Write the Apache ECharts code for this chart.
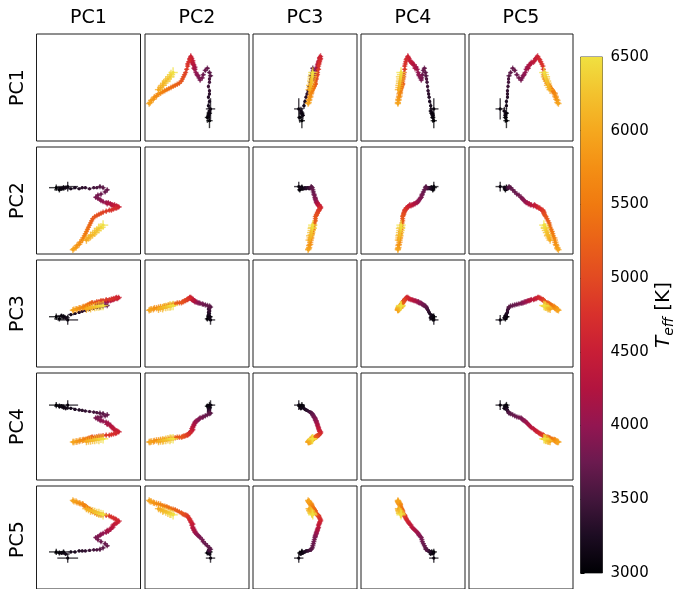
<!DOCTYPE html>
<html>
<head>
<meta charset="utf-8">
<script src="https://cdn.jsdelivr.net/npm/echarts@6/dist/echarts.min.js"></script>
<style>
  html, body { margin: 0; padding: 0; background: #fff; }
  #chart { width: 678px; height: 589px; }
</style>
</head>
<body>
<div id="chart"></div>
<script>
// Principal-component scores of the stellar sequence, ordered by effective temperature.
const pcNames = ['PC1', 'PC2', 'PC3', 'PC4', 'PC5'];

const teff = [3000, 3020, 3050, 3080, 3100, 3150, 3200,
  3250, 3300, 3350, 3400, 3450, 3500, 3550,
  3600, 3650, 3700, 3725, 3750, 3800, 3825, 3850, 3900, 3950,
  4000, 4050, 4100, 4150, 4200, 4250, 4300, 4350,
  4400, 4450, 4500, 4550, 4600, 4650, 4700, 4750,
  4800, 4850, 4900, 4950, 5000, 5050, 5100, 5150,
  5200, 5250, 5300, 5350, 5400, 5450, 5500, 5550,
  5600, 5650, 5700, 5750, 5800, 5850, 5900, 5950,
  6000, 6050, 6100, 6150, 6200, 6250, 6300, 6400, 6500];

const pc1 = [19, 22, 26, 30, 24, 28, 33,
  37, 41, 44, 47, 51, 55, 58,
  61, 64, 68, 66, 62, 59, 57, 59, 61, 62,
  64, 67, 69, 68, 71, 72, 73, 74,
  75, 77, 78, 79, 77, 76, 74, 72,
  70, 67, 64, 62, 60, 58, 56, 54,
  53, 52, 51, 50, 49, 48, 47, 46,
  45, 44, 42, 41, 39, 38, 36, 35,
  48, 50, 52, 54, 56, 58, 60, 62, 64];

const pc2 = [62, 60, 62, 63, 61, 62, 61,
  62, 61, 62, 62, 61, 62, 62,
  63, 62, 60, 58, 56, 55, 53, 52, 51, 50,
  49, 48, 48, 47, 47, 46, 46, 45,
  46, 45, 44, 44, 43, 43, 42, 41,
  41, 40, 39, 38, 37, 36, 35, 33,
  31, 29, 27, 25, 23, 21, 19, 17,
  15, 13, 11, 9, 8, 6, 5, 4,
  13, 15, 17, 18, 20, 22, 24, 25, 27];

const pc3 = [47, 45, 47, 44, 48, 46, 49,
  50, 51, 52, 53, 54, 55, 55.5,
  56, 57, 57.5, 58, 58.5, 59, 59.5, 60, 60, 60.5,
  61, 61, 61.5, 62, 62, 62.5, 63, 63,
  63.5, 64, 64, 65, 65, 64.5, 64, 63.5,
  63, 63, 62, 62, 61, 61, 60, 60,
  60, 59, 59, 58, 58, 57, 57, 56,
  56, 55.5, 55, 55, 54, 54, 53.5, 53,
  54, 55, 55, 56, 56, 56.5, 57, 57, 57.5];

const pc4 = [70, 69, 68, 70, 69, 67, 67,
  66, 65.5, 65, 64.5, 64, 63.5, 63,
  62.5, 62, 61, 60, 59, 58.5, 58, 57, 56, 55.5,
  55, 54, 53, 52, 51, 50, 49, 48,
  47, 46, 45.5, 45, 44, 43.5, 43, 42.5,
  42, 42, 41.5, 41, 41, 40.5, 40, 40,
  40, 39.5, 39, 39, 38.5, 38, 38, 37.5,
  37.5, 37, 37, 36.5, 36, 36, 35.5, 35.5,
  36, 36.5, 37, 37, 37.5, 38, 38, 38.5, 38.5];

const pc5 = [36, 35, 36, 30, 35, 34, 36,
  36, 37, 37, 37, 37.5, 38, 38,
  38.5, 40, 42, 44, 46, 48, 50, 51, 52, 53,
  54, 55, 56, 57, 58, 59, 60, 62,
  63, 64, 65, 66, 67, 68, 69, 70,
  71, 71.5, 72, 72, 72.5, 73, 74, 75,
  76, 77, 77.5, 78, 79, 80, 80.5, 81,
  82, 82.5, 83, 83.5, 84, 85, 85, 86,
  78, 77, 76, 76, 75, 74, 73.5, 73, 72];

// Uncertainties: PC1 separately, PC2–PC5 share one value per star.
const errPC1 = [7, 5, 5, 10, 4, 4, 3,
  2, 2, 2, 2, 2, 2, 2,
  2.5, 2.5, 2.5, 2.5, 2.5, 2.5, 2.5, 2.5, 2.5, 2.5,
  3, 3, 3, 3, 3, 3, 3, 3,
  3, 3, 3, 3, 3, 3, 3, 3,
  2.5, 2.5, 2.5, 2.5, 2.5, 2.5, 2.5, 2.5,
  2.5, 2.5, 2.5, 2.5, 2.5, 2.5, 2.5, 2.5,
  3, 3, 3, 3, 3, 3, 3, 3,
  4, 4, 4.5, 4, 4.5, 4.5, 5, 4.5, 5];

const errPC = [3, 2.5, 2.5, 4.5, 2, 2, 1.5,
  1.5, 1.5, 1.5, 1.5, 1.5, 1.5, 1.5,
  2.5, 2.5, 2.5, 2.5, 2.5, 2.5, 2.5, 2.5, 2.5, 2.5,
  2.5, 2.5, 2.5, 2.5, 2.5, 2.5, 2.5, 2.5,
  2.5, 2.5, 2.5, 2.5, 2.5, 2.5, 2.5, 2.5,
  2.5, 2.5, 2.5, 2.5, 2.5, 2.5, 2.5, 2.5,
  2.5, 2.5, 2.5, 2.5, 2.5, 2.5, 2.5, 2.5,
  3, 3, 3, 3, 3, 3, 3, 3,
  3.5, 3.5, 4, 3.5, 4, 4, 4.5, 4, 4.5];

const teffMin = 3000, teffMax = 6500, teffStep = 500;

// Colour ramp for temperature (black -> purple -> crimson -> orange -> yellow)
const rampColors = ['#000004', '#1c0c22', '#43163c', '#6b1a4f', '#931651', '#b2143f',
  '#c81e36', '#d8302c', '#e24a22', '#ea6218', '#f07a10', '#f48f14', '#f5a81e', '#f3c22e', '#f0e040'];

const FONT = 'DejaVu Sans';
const colLeft = [36.5, 145, 253, 361, 469];
const rowTop = [34, 147, 260, 373, 486];
const panelW = 104, panelH = 107;

const pcs = [pc1, pc2, pc3, pc4, pc5];
const errFor = (p, k) => (p === 0 ? errPC1[k] : errPC[k]);

const grids = [], xAxes = [], yAxes = [], series = [], scatterIdx = [];

for (let r = 0; r < 5; r++) {
  for (let c = 0; c < 5; c++) {
    const gi = r * 5 + c;
    grids.push({
      left: colLeft[c], top: rowTop[r], width: panelW, height: panelH,
      show: true, borderColor: '#1e1e1e', borderWidth: 1, backgroundColor: 'transparent'
    });
    xAxes.push({ gridIndex: gi, type: 'value', min: 0, max: 100, show: false });
    yAxes.push({ gridIndex: gi, type: 'value', min: 0, max: 100, show: false });
    if (r === c) continue;
    const data = teff.map((t, k) => [pcs[c][k], pcs[r][k], t, errFor(c, k), errFor(r, k)]);
    scatterIdx.push(series.length);
    series.push({
      type: 'custom',
      xAxisIndex: gi, yAxisIndex: gi,
      data: data,
      renderItem: function (params, api) {
        const x = api.value(0), y = api.value(1), ex = api.value(3), ey = api.value(4);
        const p = api.coord([x, y]);
        const l = api.coord([x - ex, y]), rr = api.coord([x + ex, y]);
        const t = api.coord([x, y + ey]), b = api.coord([x, y - ey]);
        const color = api.visual('color');
        return {
          type: 'group',
          children: [
            { type: 'line', shape: { x1: l[0], y1: l[1], x2: rr[0], y2: rr[1] },
              style: { stroke: color, lineWidth: 1.4, opacity: 0.75 } },
            { type: 'line', shape: { x1: t[0], y1: t[1], x2: b[0], y2: b[1] },
              style: { stroke: color, lineWidth: 1.4, opacity: 0.75 } },
            { type: 'circle', shape: { cx: p[0], cy: p[1], r: 1.6 }, style: { fill: color } }
          ]
        };
      }
    });
  }
}

// Colour bar
const cbGrid = grids.length;
grids.push({ left: 580.5, top: 57, width: 22, height: 516, show: true,
  borderColor: '#222', borderWidth: 0.8, backgroundColor: 'transparent' });
xAxes.push({ gridIndex: cbGrid, type: 'value', min: 0, max: 1, show: false });
yAxes.push({
  gridIndex: cbGrid, type: 'value', min: teffMin, max: teffMax, interval: teffStep,
  position: 'right',
  axisLine: { show: false },
  axisTick: { show: true, length: 4, lineStyle: { color: '#000', width: 1 } },
  axisLabel: { color: '#000', fontSize: 15, fontFamily: FONT, margin: 8,
    formatter: (v) => String(v) },
  splitLine: { show: false }
});
const cbStops = rampColors.map((col, i) => ({ offset: i / (rampColors.length - 1), color: col }));
series.push({
  type: 'custom',
  xAxisIndex: cbGrid, yAxisIndex: cbGrid,
  data: [[0, teffMin, 1, teffMax]],
  z: 1,
  renderItem: function (params, api) {
    const a = api.coord([api.value(0), api.value(1)]);
    const b = api.coord([api.value(2), api.value(3)]);
    return {
      type: 'rect',
      shape: { x: a[0], y: b[1], width: b[0] - a[0], height: a[1] - b[1] },
      style: { fill: new echarts.graphic.LinearGradient(0, 1, 0, 0, cbStops) }
    };
  }
});

const graphics = [];
for (let i = 0; i < 5; i++) {
  graphics.push({
    type: 'text', x: colLeft[i] + panelW / 2, y: 18,
    style: { text: pcNames[i], fontSize: 19, fontFamily: FONT, fill: '#000',
      textAlign: 'center', textVerticalAlign: 'middle' }
  });
  graphics.push({
    type: 'text', x: 18, y: rowTop[i] + panelH / 2, rotation: Math.PI / 2,
    style: { text: pcNames[i], fontSize: 19, fontFamily: FONT, fill: '#000',
      textAlign: 'center', textVerticalAlign: 'middle' }
  });
}
graphics.push({
  type: 'text', x: 664, y: 315, rotation: Math.PI / 2,
  style: {
    text: '{t|T}{s|eff}{n| [K]}',
    textAlign: 'center', textVerticalAlign: 'middle',
    rich: {
      t: { fontSize: 20, fontStyle: 'italic', fontFamily: FONT, fill: '#000', lineHeight: 24 },
      s: { fontSize: 14, fontStyle: 'italic', fontFamily: FONT, fill: '#000', lineHeight: 24,
        verticalAlign: 'bottom', padding: [8, 0, 0, 0] },
      n: { fontSize: 20, fontFamily: FONT, fill: '#000', lineHeight: 24 }
    }
  }
});

const chart = echarts.init(document.getElementById('chart'), null, { renderer: 'canvas' });
chart.setOption({
  animation: false,
  backgroundColor: '#fff',
  grid: grids,
  xAxis: xAxes,
  yAxis: yAxes,
  visualMap: {
    type: 'continuous', show: false, min: teffMin, max: teffMax, dimension: 2,
    seriesIndex: scatterIdx,
    inRange: { color: rampColors }
  },
  series: series,
  graphic: graphics
});
</script>
</body>
</html>
